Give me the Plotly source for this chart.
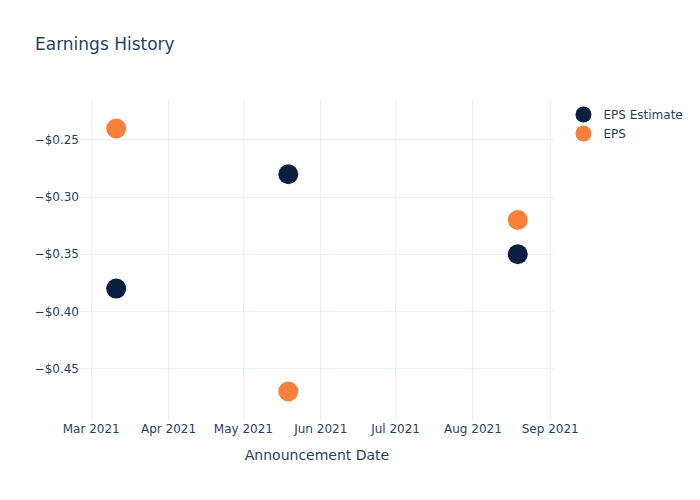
import plotly.graph_objects as go

dates = ["2021-03-11", "2021-05-19", "2021-08-19"]
eps_estimate = [-0.38, -0.28, -0.35]
eps_actual = [-0.24, -0.47, -0.32]

fig = go.Figure()
fig.add_trace(go.Scatter(x=dates, y=eps_estimate, mode="markers", name="EPS Estimate",
                         marker=dict(color="#0B1F41", size=20)))
fig.add_trace(go.Scatter(x=dates, y=eps_actual, mode="markers", name="EPS",
                         marker=dict(color="#F7803B", size=20)))
fig.update_layout(
    template="plotly_white",
    width=700, height=500,
    font=dict(family="DejaVu Sans"),
    title=dict(text="Earnings History"),
    xaxis=dict(title=dict(text="Announcement Date")),
    yaxis=dict(tickformat="$.2f"),
)
fig.write_html("out.html")
